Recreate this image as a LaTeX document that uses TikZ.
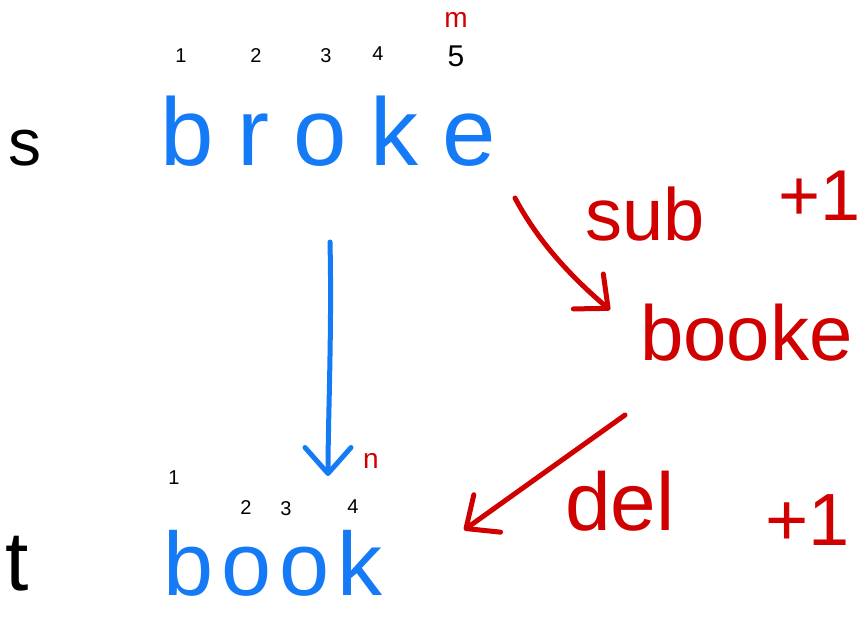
\documentclass[tikz,border=0pt]{standalone}
\usepackage{fontspec}
\setmainfont{Liberation Sans}
\usetikzlibrary{arrows.meta}
\definecolor{hblue}{RGB}{20,122,245}
\definecolor{hred}{RGB}{208,0,0}
\begin{document}
\begin{tikzpicture}[x=1pt,y=-1pt,
  word/.style={inner sep=0pt, anchor=base west},
  idx/.style={inner sep=0pt, anchor=base, font=\fontsize{20}{20}\selectfont},
  pen/.style={line width=5pt, line cap=round, line join=round,
    -{Straight Barb[length=26pt 0,width=46pt 0,line cap=round,line join=round]}},
  ]
\useasboundingbox (0,0) rectangle (865,630);
% left labels
\node[word, font=\fontsize{66}{66}\selectfont] (s) at (8,165) {s};
\node[word, font=\fontsize{84}{84}\selectfont] (t) at (5,590) {t};
% source word
\node[word, text=hblue, font=\fontsize{96}{96}\selectfont\addfontfeature{LetterSpace=25}] (broke) at (160,165) {broke};
\node[idx] (i1) at (181,62) {1};
\node[idx] (i2) at (256,62) {2};
\node[idx] (i3) at (326,62) {3};
\node[idx] (i4) at (378,60) {4};
\node[idx, font=\fontsize{30}{30}\selectfont] (i5) at (456,66) {5};
\node[idx, text=hred, font=\fontsize{28}{28}\selectfont] (m) at (456,27) {m};
% target word
\node[word, text=hblue, text height=66pt, text depth=0pt, font=\fontsize{90}{90}\selectfont\addfontfeature{LetterSpace=9}] (book) at (163,595) {book};
\node[idx] (j1) at (174,484) {1};
\node[idx] (j2) at (246,514) {2};
\node[idx] (j3) at (286,515) {3};
\node[idx] (j4) at (353,513) {4};
\node[idx, text=hred, font=\fontsize{28}{28}\selectfont] (n) at (371,468) {n};
% intermediate
\node[word, text=hred, font=\fontsize{74}{74}\selectfont] (sub) at (585,240) {sub};
\node[word, text=hred, font=\fontsize{72}{72}\selectfont] (p1) at (778,220) {+1};
\node[word, text=hred, font=\fontsize{78}{78}\selectfont] (booke) at (640,360) {booke};
\node[word, text=hred, font=\fontsize{82}{82}\selectfont] (del) at (565,530) {del};
\node[word, text=hred, font=\fontsize{74}{74}\selectfont] (p2) at (765,545) {+1};
% connectors
\coordinate (a1) at (330,242);
\coordinate (a2) at (328,476);
\draw[pen, hblue] (a1) .. controls (332,330) and (328,420) .. (a2);
\coordinate (b1) at (515,198);
\coordinate (b2) at (610,310);
\draw[pen, hred] (b1) .. controls (540,245) and (575,280) .. (b2);
\coordinate (c1) at (625,415);
\coordinate (c2) at (464,530);
\draw[pen, hred] (c1) -- (c2);
\end{tikzpicture}
\end{document}
